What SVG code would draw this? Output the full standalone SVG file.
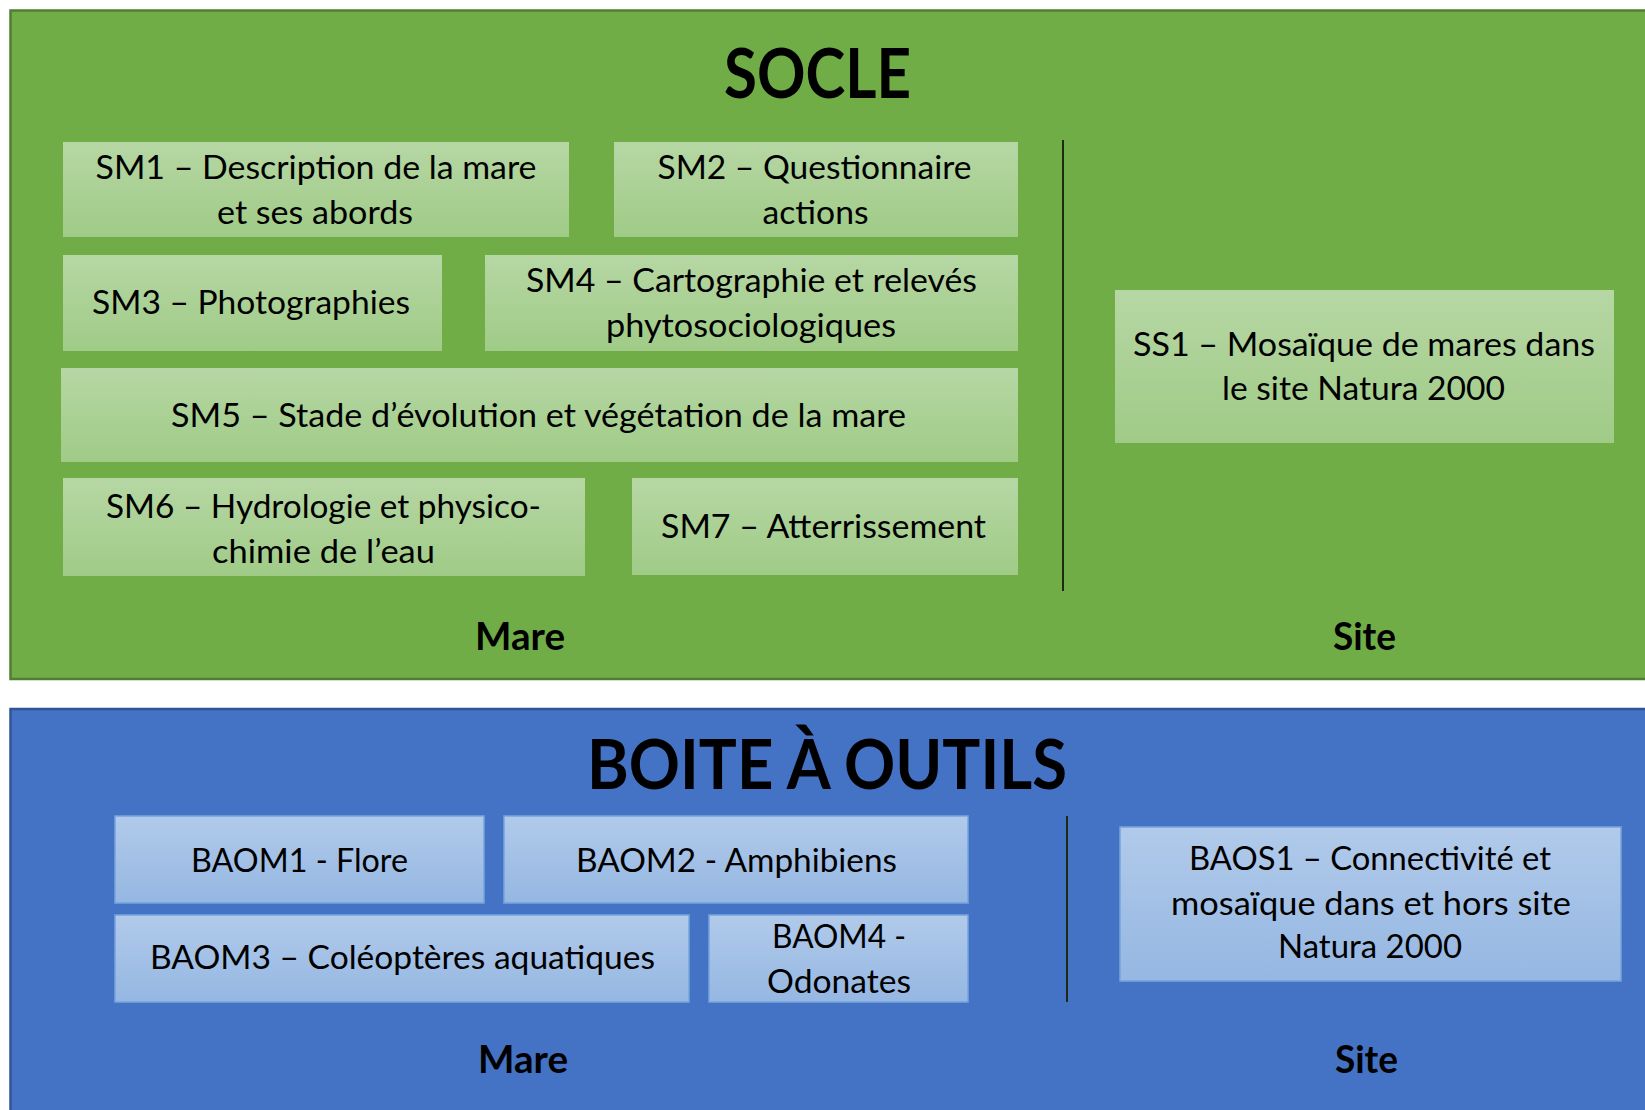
<svg xmlns="http://www.w3.org/2000/svg" width="1645" height="1110" viewBox="0 0 1645 1110">
<defs>
<linearGradient id="gG" x1="0" y1="0" x2="0" y2="1">
<stop offset="0" stop-color="#B6D7A4"/>
<stop offset="1" stop-color="#A0CB87"/>
</linearGradient>
<linearGradient id="gB" x1="0" y1="0" x2="0" y2="1">
<stop offset="0" stop-color="#B1CAEA"/>
<stop offset="1" stop-color="#95B7E2"/>
</linearGradient>
</defs>
<style>
.pg{fill:#70AD47;stroke:#507E32;stroke-width:2.5}
.pb{fill:#4472C4;stroke:#2F5597;stroke-width:2.5}
.bg{fill:url(#gG)}
.bb{fill:url(#gB);stroke:#76A5DC;stroke-width:1.5}
.t{font-family:Lato,"Open Sans",sans-serif;font-size:33.5px;fill:#000;text-anchor:middle}
.h{font-family:Lato,"Open Sans",sans-serif;font-weight:bold;font-size:68px;fill:#000;text-anchor:middle}
.l{font-family:Lato,"Open Sans",sans-serif;font-weight:bold;font-size:38px;fill:#000;text-anchor:middle}
.sep{stroke:#1E2A14;stroke-width:2}
</style>
<rect width="1645" height="1110" fill="#FFFFFF"/>
<g id="socle">
<rect class="pg" x="10.5" y="10.5" width="1660" height="668.5"/>
<text class="h" x="817.5" y="98" textLength="187" lengthAdjust="spacingAndGlyphs">SOCLE</text>
<text class="l" x="520" y="650" textLength="90" lengthAdjust="spacingAndGlyphs">Mare</text>
<text class="l" x="1364.5" y="650" textLength="63" lengthAdjust="spacingAndGlyphs">Site</text>
</g>
<g id="boite">
<rect class="pb" x="10.5" y="709" width="1660" height="420"/>
<text class="h" x="827" y="789" textLength="480" lengthAdjust="spacingAndGlyphs">BOITE À OUTILS</text>
<text class="l" x="523" y="1073" textLength="90" lengthAdjust="spacingAndGlyphs">Mare</text>
<text class="l" x="1366.5" y="1073" textLength="63" lengthAdjust="spacingAndGlyphs">Site</text>
</g>
<g id="connectors">
<line class="sep" x1="1063" y1="140" x2="1063" y2="591"/>
<line class="sep" x1="1067" y1="816" x2="1067" y2="1002"/>
</g>
<g id="SM1">
<rect class="bg" x="63" y="142" width="506" height="95"/>
<text class="t" x="316" y="179" textLength="441" lengthAdjust="spacingAndGlyphs">SM1 – Description de la mare</text>
<text class="t" x="315" y="224" textLength="196" lengthAdjust="spacingAndGlyphs">et ses abords</text>
</g>
<g id="SM2">
<rect class="bg" x="614" y="142" width="404" height="95"/>
<text class="t" x="814.5" y="179" textLength="314" lengthAdjust="spacingAndGlyphs">SM2 – Questionnaire</text>
<text class="t" x="815.5" y="224" textLength="106" lengthAdjust="spacingAndGlyphs">actions</text>
</g>
<g id="SM3">
<rect class="bg" x="63" y="255" width="379" height="96"/>
<text class="t" x="251" y="314" textLength="318" lengthAdjust="spacingAndGlyphs">SM3 – Photographies</text>
</g>
<g id="SM4">
<rect class="bg" x="485" y="255" width="533" height="96"/>
<text class="t" x="751.5" y="292" textLength="451" lengthAdjust="spacingAndGlyphs">SM4 – Cartographie et relevés</text>
<text class="t" x="751" y="337" textLength="290" lengthAdjust="spacingAndGlyphs">phytosociologiques</text>
</g>
<g id="SM5">
<rect class="bg" x="61" y="368" width="957" height="94"/>
<text class="t" x="538.5" y="427" textLength="735" lengthAdjust="spacingAndGlyphs">SM5 – Stade d’évolution et végétation de la mare</text>
</g>
<g id="SM6">
<rect class="bg" x="63" y="478" width="522" height="98"/>
<text class="t" x="323.5" y="518" textLength="435" lengthAdjust="spacingAndGlyphs">SM6 – Hydrologie et physico-</text>
<text class="t" x="323.5" y="563" textLength="223" lengthAdjust="spacingAndGlyphs">chimie de l’eau</text>
</g>
<g id="SM7">
<rect class="bg" x="632" y="478" width="386" height="97"/>
<text class="t" x="823.5" y="538" textLength="325" lengthAdjust="spacingAndGlyphs">SM7 – Atterrissement</text>
</g>
<g id="SS1">
<rect class="bg" x="1115" y="290" width="499" height="153"/>
<text class="t" x="1364" y="356" textLength="462" lengthAdjust="spacingAndGlyphs">SS1 – Mosaïque de mares dans</text>
<text class="t" x="1363.5" y="400" textLength="283" lengthAdjust="spacingAndGlyphs">le site Natura 2000</text>
</g>
<g id="BAOM1">
<rect class="bb" x="115" y="816" width="369" height="87"/>
<text class="t" x="299.5" y="872" textLength="217" lengthAdjust="spacingAndGlyphs">BAOM1 - Flore</text>
</g>
<g id="BAOM2">
<rect class="bb" x="504" y="816" width="464" height="87"/>
<text class="t" x="736.5" y="872" textLength="321" lengthAdjust="spacingAndGlyphs">BAOM2 - Amphibiens</text>
</g>
<g id="BAOM3">
<rect class="bb" x="115" y="915" width="574" height="87"/>
<text class="t" x="402.5" y="969" textLength="505" lengthAdjust="spacingAndGlyphs">BAOM3 – Coléoptères aquatiques</text>
</g>
<g id="BAOM4">
<rect class="bb" x="709" y="915" width="259" height="87"/>
<text class="t" x="839" y="948" textLength="134" lengthAdjust="spacingAndGlyphs">BAOM4 -</text>
<text class="t" x="839" y="993" textLength="144" lengthAdjust="spacingAndGlyphs">Odonates</text>
</g>
<g id="BAOS1">
<rect class="bb" x="1120" y="827" width="501" height="154"/>
<text class="t" x="1370" y="870" textLength="362" lengthAdjust="spacingAndGlyphs">BAOS1 – Connectivité et</text>
<text class="t" x="1371" y="915" textLength="400" lengthAdjust="spacingAndGlyphs">mosaïque dans et hors site</text>
<text class="t" x="1370" y="958" textLength="184" lengthAdjust="spacingAndGlyphs">Natura 2000</text>
</g>
</svg>
